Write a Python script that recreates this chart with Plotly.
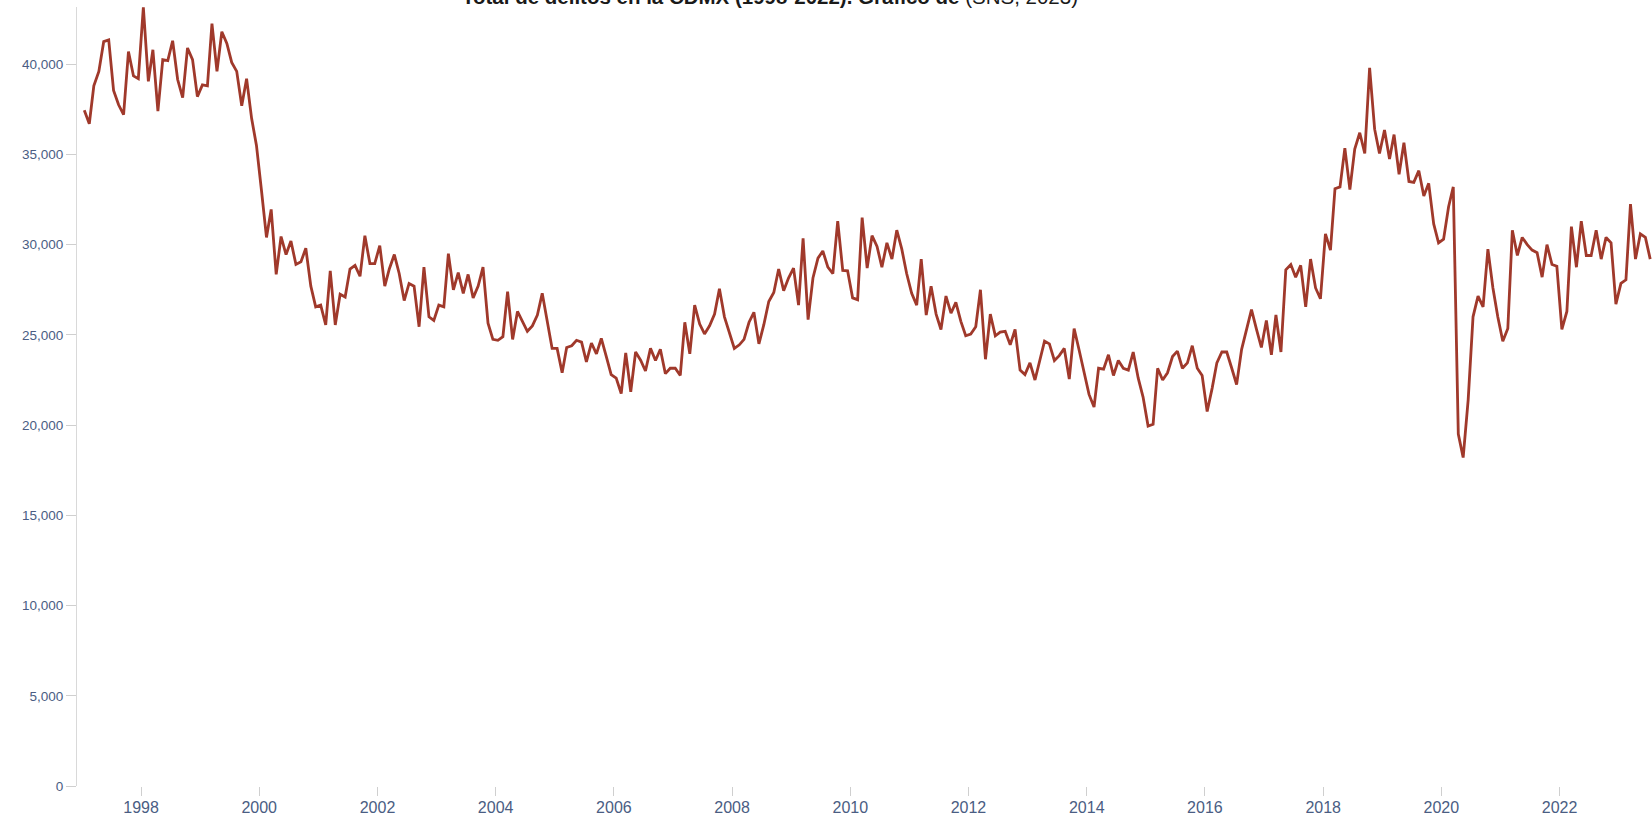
import pandas as pd
import plotly.graph_objects as go

# Monthly total of crimes in CDMX, starting January 1997
start_month = "1997-01-01"
delitos = [
    37450, 36700, 38800, 39600, 41250, 41350, 38550, 37750, 37200, 40700, 39350, 39200,
    43150, 39050, 40800, 37400, 40250, 40200, 41300, 39150, 38150, 40900, 40250, 38200,
    38850, 38800, 42250, 39600, 41800, 41150, 40100, 39600, 37700, 39200, 37000, 35500,
    33000, 30400, 31950, 28350, 30450, 29450, 30200, 28900, 29050, 29800, 27700, 26550,
    26650, 25550, 28550, 25550, 27250, 27100, 28650, 28850, 28250, 30500, 28950, 28950,
    29950, 27700, 28650, 29450, 28400, 26900, 27850, 27700, 25450, 28750, 26000, 25800,
    26650, 26550, 29500, 27500, 28450, 27300, 28350, 27050, 27700, 28750, 25650, 24750,
    24700, 24900, 27400, 24750, 26300, 25750, 25200, 25500, 26100, 27300, 25850, 24250,
    24250, 22900, 24300, 24400, 24700, 24600, 23500, 24550, 23950, 24800, 23800, 22800,
    22600, 21750, 24000, 21850, 24050, 23600, 23000, 24250, 23580, 24200, 22850, 23150,
    23150, 22750, 25700, 23950, 26650, 25600, 25050, 25500, 26150, 27550, 26000, 25100,
    24250, 24450, 24750, 25700, 26250, 24500, 25550, 26850, 27350, 28650, 27450, 28150,
    28700, 26650, 30350, 25850, 28150, 29250, 29650, 28750, 28400, 31300, 28570, 28550,
    27050, 26950, 31500, 28700, 30500, 29900, 28750, 30100, 29200, 30800, 29750, 28400,
    27300, 26650, 29200, 26100, 27700, 26150, 25300, 27150, 26200, 26800, 25750, 24950,
    25050, 25450, 27500, 23650, 26150, 24950, 25150, 25200, 24450, 25300, 23050, 22800,
    23450, 22500, 23500, 24650, 24500, 23580, 23850, 24250, 22550, 25350, 24150, 22850,
    21700, 21000, 23150, 23100, 23900, 22750, 23580, 23150, 23050, 24050, 22600, 21550,
    19950, 20050, 23150, 22500, 22900, 23800, 24100, 23150, 23450, 24400, 23150, 22750,
    20750, 22050, 23450, 24050, 24050, 23150, 22250, 24200, 25250, 26400, 25300, 24300,
    25800, 23900, 26100, 24050, 28600, 28900, 28200, 28850, 26550, 29200, 27600, 27000,
    30600, 29700, 33100, 33200, 35350, 33050, 35300, 36200, 35050, 39800, 36400, 35050,
    36350, 34750, 36100, 33900, 35650, 33500, 33450, 34100, 32700, 33400, 31150, 30100,
    30300, 32100, 33200, 19500, 18200, 21400, 26000, 27150, 26550, 29750, 27600, 26000,
    24650, 25350, 30800, 29400, 30400, 30000, 29700, 29550, 28200, 30000, 28900, 28800,
    25300, 26300, 31000, 28750, 31300, 29400, 29400, 30800, 29200, 30400, 30100, 26700,
    27850, 28050, 32250, 29200, 30600, 30400, 29200,
]

y_ticks = [0, 5000, 10000, 15000, 20000, 25000, 30000, 35000, 40000]
y_tick_labels = ["0", "5,000", "10,000", "15,000", "20,000", "25,000", "30,000", "35,000", "40,000"]

title_bold = "Total de delitos en la CDMX (1998-2022). Gráfico de"
title_source = "(SNS, 2023)"

fechas = pd.date_range(start_month, periods=len(delitos), freq="MS") + pd.Timedelta(days=14)

fig = go.Figure()
fig.add_trace(go.Scatter(
    x=fechas, y=delitos, mode="lines",
    line=dict(color="#a0392b", width=2.8),
    hoverinfo="x+y", showlegend=False,
))

label_color = "#4a5d83"
fig.update_layout(
    width=1652, height=818,
    margin=dict(l=77, r=0, t=7, b=32),
    plot_bgcolor="white", paper_bgcolor="white",
    xaxis=dict(
        type="date", automargin=False,
        range=["1996-12-01", "2023-07-26"],
        tick0="1998-01-01", dtick="M24", tickformat="%Y",
        ticks="outside", ticklen=9, tickcolor="#cfcfcf", tickwidth=1,
        ticklabelstandoff=-2,
        showline=False, showgrid=False, zeroline=False,
        tickfont=dict(family="Liberation Sans, Arial, sans-serif", size=16, color=label_color),
    ),
    yaxis=dict(
        range=[0, 43170], automargin=False,
        tickvals=y_ticks, ticktext=y_tick_labels,
        ticks="outside", ticklen=10, tickcolor="#cfcfcf", tickwidth=1,
        showline=True, linecolor="#d9d9d9", linewidth=1,
        showgrid=False, zeroline=False,
        tickfont=dict(family="Liberation Sans, Arial, sans-serif", size=13.5, color=label_color),
    ),
    annotations=[dict(
        text="<b>" + title_bold + "</b> " + title_source,
        xref="paper", yref="paper", x=0.44, y=0.9967,
        xanchor="center", yanchor="bottom", showarrow=False,
        font=dict(family="Liberation Sans, Arial, sans-serif", size=20.5, color="#1a1a1a"),
    )],
)

fig.write_html(
    "out.html",
    config={"displayModeBar": False},
    post_script="document.body.style.margin='0px'; document.body.style.overflow='hidden';",
)
